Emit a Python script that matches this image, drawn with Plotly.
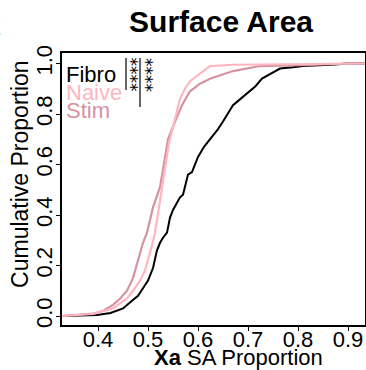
import plotly.graph_objects as go

# ECDF points
fibro_x = [0.328, 0.398, 0.425, 0.45, 0.468, 0.48, 0.49, 0.5, 0.51, 0.518, 0.524, 0.53, 0.538, 0.544, 0.55, 0.564,
           0.57, 0.58, 0.588, 0.6, 0.612, 0.624, 0.64, 0.65, 0.66, 0.67, 0.685, 0.704, 0.715, 0.728, 0.745,
           0.764, 0.79, 0.81, 0.874, 0.898, 0.934]
fibro_y = [0.0, 0.004, 0.012, 0.03, 0.06, 0.08, 0.11, 0.14, 0.19, 0.26, 0.29, 0.31, 0.33, 0.39, 0.42, 0.47,
           0.48, 0.56, 0.57, 0.63, 0.67, 0.70, 0.74, 0.77, 0.80, 0.835, 0.86, 0.89, 0.91, 0.94, 0.96,
           0.98, 0.985, 0.99, 0.996, 1.0, 1.0]

naive_x = [0.328, 0.39, 0.43, 0.458, 0.47, 0.484, 0.494, 0.50, 0.508, 0.514, 0.522, 0.53, 0.536, 0.542,
           0.554, 0.564, 0.574, 0.584, 0.604, 0.624, 0.67, 0.80, 0.894, 0.934]
naive_y = [0.0, 0.008, 0.03, 0.07, 0.10, 0.14, 0.18, 0.22, 0.28, 0.33, 0.43, 0.53, 0.61, 0.685,
           0.78, 0.86, 0.90, 0.93, 0.96, 0.99, 0.995, 0.998, 1.0, 1.0]

stim_x = [0.328, 0.39, 0.41, 0.43, 0.445, 0.458, 0.47, 0.478, 0.484, 0.49, 0.498, 0.51, 0.524, 0.534,
          0.54, 0.55, 0.56, 0.568, 0.584, 0.604, 0.624, 0.638, 0.67, 0.724, 0.824, 0.898, 0.934]
stim_y = [0.0, 0.01, 0.02, 0.044, 0.07, 0.10, 0.15, 0.21, 0.25, 0.29, 0.33, 0.43, 0.51, 0.62,
          0.70, 0.75, 0.80, 0.835, 0.89, 0.92, 0.94, 0.95, 0.97, 0.99, 0.994, 1.0, 1.0]

series_names = ["Fibro", "Naive", "Stim"]
series_colors = ["#000000", "#FFB6C1", "#D6939F"]

x_ticks = [0.4, 0.5, 0.6, 0.7, 0.8, 0.9]
y_ticks = [0.0, 0.2, 0.4, 0.6, 0.8, 1.0]

FONT = "Liberation Sans, Arial, sans-serif"

fig = go.Figure()
for xs, ys, c, w in [(fibro_x, fibro_y, series_colors[0], 2),
                     (stim_x, stim_y, series_colors[2], 2.2),
                     (naive_x, naive_y, series_colors[1], 2.2)]:
    fig.add_trace(go.Scatter(x=xs, y=ys, mode="lines", line=dict(color=c, width=w),
                             showlegend=False, hoverinfo="skip"))

# legend text
leg_y = [0.955, 0.885, 0.815]
for name, col, yy in zip(series_names, series_colors, leg_y):
    fig.add_annotation(x=0.331, y=yy, xref="x", yref="y", text=name, showarrow=False,
                       xanchor="left", yanchor="middle", font=dict(family=FONT, size=22, color=col))

# significance brackets
fig.add_shape(type="line", x0=0.456, x1=0.456, y0=1.022, y1=0.895, xref="x", yref="y",
              line=dict(color="#333333", width=1.5))
fig.add_shape(type="line", x0=0.484, x1=0.484, y0=1.022, y1=0.828, xref="x", yref="y",
              line=dict(color="#333333", width=1.5))
for xx in [0.4665, 0.4955]:
    fig.add_annotation(x=xx, y=0.955, xref="x", yref="y", text="****", showarrow=False,
                       textangle=90, xanchor="center", yanchor="middle",
                       font=dict(family="DejaVu Sans", size=17, color="#000000"))

# panel letter (cut at the left edge, as in the source figure)
fig.add_annotation(x=-0.285, y=1.09, xref="paper", yref="paper", text="<b>C</b>", showarrow=False,
                   xanchor="left", yanchor="middle", font=dict(family=FONT, size=32, color="black"))

# axis titles
fig.add_annotation(x=0.581, y=-0.12, xref="paper", yref="paper", text="<b>Xa</b> SA Proportion",
                   showarrow=False, xanchor="center", yanchor="middle",
                   font=dict(family=FONT, size=22, color="black"))
fig.add_annotation(x=-0.139, y=0.555, xref="paper", yref="paper", text="Cumulative Proportion",
                   showarrow=False, xanchor="center", yanchor="middle", textangle=-90,
                   font=dict(family=FONT, size=23, color="black"))

fig.update_layout(
    width=366, height=370,
    margin=dict(l=62, r=1, t=53, b=45, autoexpand=False),
    paper_bgcolor="white", plot_bgcolor="white",
    title=dict(text="<b>Surface Area</b>", x=0.604, xanchor="center", xref="container",
               y=0.941, yanchor="middle", yref="container",
               font=dict(family=FONT, size=30, color="black")),
    font=dict(family=FONT, color="black"),
)
fig.update_xaxes(range=[0.328, 0.934], tickvals=x_ticks, ticktext=[str(v) for v in x_ticks],
                 automargin=False, ticklabelstandoff=-10,
                 showgrid=False, zeroline=False, showline=True, linecolor="black", linewidth=1.5,
                 mirror=True, ticks="outside", ticklen=4, tickcolor="black",
                 tickfont=dict(family=FONT, size=22))
fig.update_yaxes(range=[-0.0356, 1.0416], tickvals=y_ticks, ticktext=["%.1f" % v for v in y_ticks],
                 automargin=False, ticklabelstandoff=-5,
                 tickangle=-90, showgrid=False, zeroline=False, showline=True, linecolor="black",
                 linewidth=1.5, mirror=True, ticks="outside", ticklen=4, tickcolor="black",
                 tickfont=dict(family=FONT, size=22))

fig.write_html("out.html", config={"displayModeBar": False},
               post_script="document.body.style.margin='0';")
